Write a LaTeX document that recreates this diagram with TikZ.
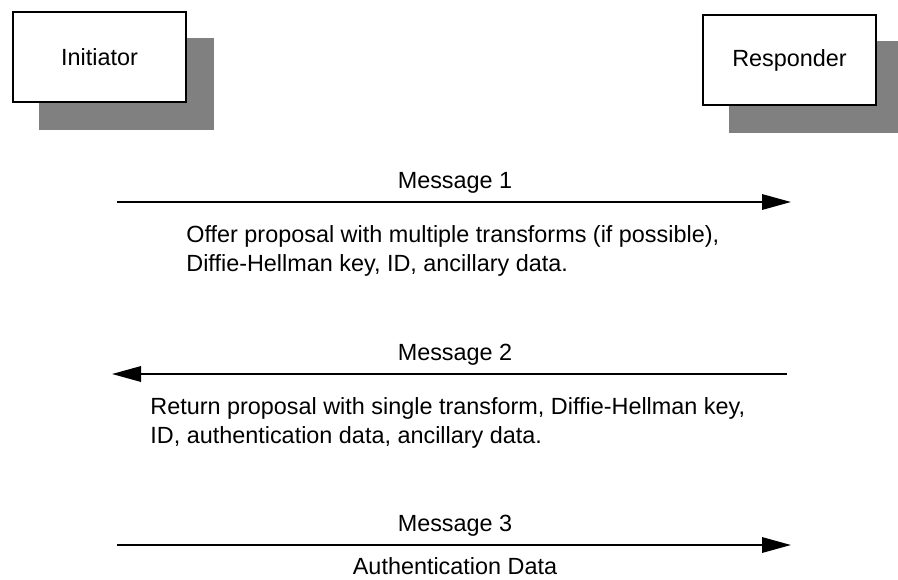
\documentclass[tikz,border=0pt]{standalone}
\usepackage{fontspec}
\setmainfont{Liberation Sans}
\usetikzlibrary{arrows.meta}

\newcommand{\drawparty}[4]{%
\fill[black!50] (#2+27,#3+27) rectangle ++ (175,92); 
\node[partybox] (#1) at (#2+87.5,#3+46) {#4}; 
}
\newcommand{\drawmsg}[5]{%
\coordinate (#1s) at (#2,#4); 
\coordinate (#1e) at (#3,#4); 
\draw[msgline] (#1s) -- (#1e); 
\node[msgtext] (#1l) at (455,#4-19) {#5}; 
}

\begin{document}
\begin{tikzpicture}[x=0.5pt,y=-0.5pt]

\tikzstyle{partybox}=[draw,line width=1pt,fill=white,minimum width=86.5pt,minimum height=45pt,inner sep=0pt,font=\fontsize{11.7}{14.5}\selectfont]
\tikzstyle{msgline}=[line width=1pt,-{Triangle[length=14.5pt,width=7.7pt]}]
\tikzstyle{msgtext}=[inner sep=0pt,font=\fontsize{11.7}{14.5}\selectfont]
\tikzstyle{desctext}=[inner sep=0pt,align=left,anchor=west,font=\fontsize{11.7}{14.5}\selectfont]

\useasboundingbox (0,0) rectangle (898,579);

% parties
\drawparty{init}{12}{11}{Initiator}
\drawparty{resp}{702}{14}{Responder}

% message 1
\drawmsg{ma}{117}{791}{202}{Message 1}
\node[desctext] (da) at (186,251) {Offer proposal with multiple transforms (if possible),\\Diffie-Hellman key, ID, ancillary data.};

% message 2
\drawmsg{mb}{787}{112}{374}{Message 2}
\node[desctext] (db) at (150,423) {Return proposal with single transform, Diffie-Hellman key,\\ID, authentication data, ancillary data.};

% message 3
\drawmsg{mc}{117}{791}{545}{Message 3}
\node[msgtext] (dc) at (455,566) {Authentication Data};

\end{tikzpicture}
\end{document}
